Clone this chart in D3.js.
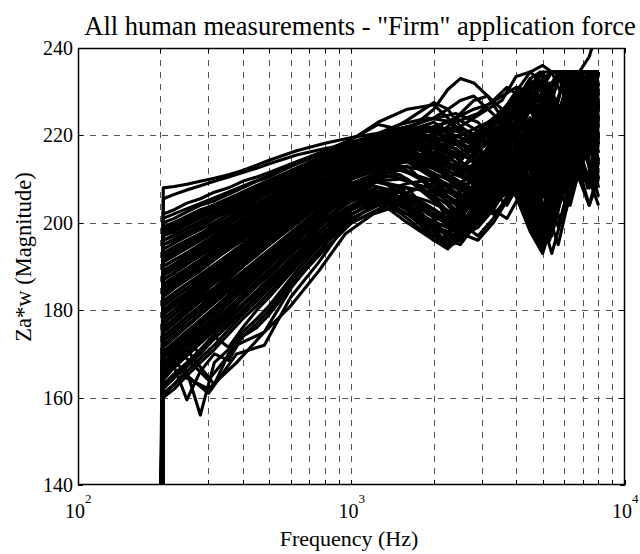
<!DOCTYPE html>
<html><head><meta charset="utf-8">
<script src="https://cdn.jsdelivr.net/npm/d3@7"></script>
<style>body{margin:0;background:#fff}svg{display:block}</style>
</head><body><svg id="c" width="640" height="554"></svg>
<script>
// ---- data ----
const titleText = 'All human measurements - "Firm" application force';
const xLabel = 'Frequency (Hz)';
const yLabel = 'Za*w (Magnitude)';
const yTicks = [140, 160, 180, 200, 220, 240];
const xMajor = [100, 1000, 10000];
const xExponents = ['2', '3', '4'];
const xMinor = [200, 300, 400, 500, 600, 700, 800, 900, 2000, 3000, 4000, 5000, 6000, 7000, 8000, 9000];

// measurement set A (frequency grid A)
const freqsA = [200, 205, 225, 250, 280, 315, 355, 400, 450, 500, 630, 800, 1000, 1250, 1600, 2000, 2250, 2500, 2800, 3150, 3550, 4000, 4500, 5000, 5400, 5800, 6300, 6800, 7400, 8000];
const curvesA = [
[40,208,208.3,208.8,209.5,210.2,211,212,213.2,214.3,216.5,218.2,219.5,220.5,222,221,219.5,220,221.5,223,225,227.5,230,228,231,234.5,234.5,234.5,234.5,234.5],
[90,205.5,206.5,207.5,208.5,209.5,210.5,211.5,212.5,213.5,215.5,217,218,219,221,226,230.5,233,232,229,226,224,229,232,234.5,234.5,234.5,234.5,234.5,234.5],
[60,202,203,204.5,205.5,207,208,209.5,210.5,211.5,214,216.5,219,223,226,227,224,221,219,220,223,226,229,227,232,234.5,234.5,234.5,234.5,234.5],
[110,200,201,202.5,204,205,206.5,208,209.5,210.5,213.5,216.5,219,222.5,221,219,220,222,224,226,228,233.5,234.5,236,234.5,234.5,234.5,230,234.5,234.5],
[20,199,200,201.5,203,204,205.5,207,208.5,209.5,212.5,215.5,218,219,220,222,223,224.5,226,227,229,231,230,233,234.5,234.5,234.5,234.5,238,245],
[75,197,198,199.5,201,202.5,204,205.5,207,208.5,211.5,214.5,217.5,219.5,223.5,227.5,226,222,220,221,224,228,232,231,234.5,234.5,234.5,229,234.5,234.5],
[130,196,197,198.5,200,201.5,203,205,206.5,208,211,214.5,218,220,222,221,219,218,219.5,222,225,230,234.5,232,228,234.5,230,234.5,226,232],
[50,195,196,197.5,199,201,202.5,204,205.5,207,210,213.5,216.5,218,219,217,215,216,218,221,224,222,226,220,225,230,234.5,228,224,230],
[100,193,194.5,196,197.5,199.5,201,203,204.5,206,209.5,213,217,219,220.5,218,216,215,217,220,218,214,210,206,212,219,226,232,234.5,234.5],
[0,192,193.5,195,196.5,198.5,200.5,202,204,205.5,209,212.5,216,218,217,214,212,214,218,222,226,224,220,214,220,226,222,228,234.5,234.5],
[85,190,191.5,193,195,197,199,200.5,202.5,204,207.5,211.5,215,217,219,216,213,212,215,219,223,220,213,208,216,224,230,234.5,234.5,228],
[65,189,190.5,192.5,194.5,196.5,198.5,200.5,202,204,208,212,216,218,221,223,221,218,216,218,222,227,231,234.5,229,222,226,234.5,234.5,234.5],
[120,188,189.5,191,193,195,197,199,201,202.5,206.5,210,214,216,218,215,211,209,212,216,219,215,207,200,206,214,220,218,226,232],
[30,186,187.5,189.5,191.5,194,196,198,200.5,202.5,206.5,211,215,217,219.5,222,223,221,218,215,218,223,227,225,218,212,220,227,224,220],
[95,185,186.5,188.5,190.5,192.5,194.5,197,199,201,205,209,213,215,217,214,210,207,210,214,217,212,205,197,204,212,208,216,224,220],
[55,183,185,187,189,191.5,194,196,198.5,200.5,205,209.5,214,216.5,219,220,218,216,214,217,221,225,222,216,222,230,234.5,226,220,226],
[115,182,184,186,188,190,192.5,194.5,197,199,203.5,208,212,214,216,211,206,204,208,213,216,210,203,196,202,210,218,214,222,216],
[10,180,182,184,186.5,189,191.5,194,196.5,198.5,203.5,208,213,215.5,218,219,217,214,212,215,219,223,219,212,218,226,232,234.5,230,234.5],
[80,179,181,183,185,187.5,190,192.5,195,197,201.5,206.5,211,213,215,210,204,201,205,210,214,209,202,198,207,216,212,220,228,224],
[45,177,179,181.5,184,186.5,189,191.5,194.5,196.5,202,207,212,214,216.5,217,214,211,210,213,217,220,214,206,213,222,228,224,216,222],
[105,176,178,180.5,183,185,188,190.5,193,195,200,205,210,212,213,207,200,197,201,207,212,207,200,195,202,211,206,214,210,218],
[70,175,177,179.5,182,184.5,187.5,190,193,195,200.5,206,211,213,215,214,211,209,211,215,219,216,208,201,210,219,215,224,219,210],
[125,173,175,177.5,180,183,185.5,188,191,193,198,202.5,207,209.5,208,201,196,195,199,205,210,206,198,193,200,210,204,212,208,215],
[35,172,174,176.5,179,182,184.5,187.5,190,192.5,198,203,208,210,206,199,195,197,202,208,213,218,222,215,208,216,224,218,226,232],
[90,170,172,174.5,177.5,180.5,183.5,186.5,189.5,192,198,203.5,209,211,210,205,202,199,203,209,215,221,228,224,218,212,222,230,234.5,226],
[60,169,171,173.5,176.5,179.5,182.5,185.5,188.5,191,197,202,206,208,205,198,194.5,196,200,205,210,215,210,200,193,200,210,218,214,206],
[15,168,170,172.5,175.5,178.5,181.5,184.5,187.5,190,196,201,205,207,204,197,196,199,204,208,212,206,199,194,202,212,220,216,208,214],
[100,166,168,171,174,177,180,183.5,186.5,189,195,200,204,206.5,203,196,194,197,201,205,209,213,205,197,206,215,210,220,226,218],
[50,165,167.5,170,173,176,179,182.5,185.5,188,194,199,203.5,206,202,199,198,198.5,203,207,211,216,220,212,204,210,218,212,204,210],
[80,163,165.5,168,171,174.5,177.5,181,184,186.5,192.5,198,203,206,201,196,197,201,206,210,214,208,200,196,206,216,224,230,222,214],
[25,162,164.5,167,170,173.5,176.5,180,183,186,192,197,202,205,204,200,199,202,207,212,217,214,206,198,204,212,220,228,232,224],
[110,161,163,166,169,172,175.5,179,182,185,191,196.5,201,204,202,197,195,198,203,209,214,220,224,216,208,200,208,216,210,204],
[65,160,162,165,168,171,174.5,178,181,184,190.5,196,200,203,206,203,200,203,208,214,220,226,220,210,202,209,217,225,234.5,228],
[40,165,168,166,156,168,171,175,178,181,189,196,202,205,200,196,195,199,204,209,212,207,199,195,203,211,217,210,204,212],
[120,164,167,159.5,166,170,168.5,174,177,180,188,195,201,204,206,203,201,204,209,215,220,225,229,222,214,220,226,232,226,218],
[90,166,169,171,167,163,170,174,176,179,187,194,200,203,207,209,206,203,204,208,212,216,212,204,198,206,214,222,218,212],
[5,168,170,173,170,174,171.5,176,180,183,190,197,203,206,208,207,205,204,207,211,216,220,226,220,213,218,224,220,228,234.5],
[70,170,172,175,173,177,178,181,184,187,193,199,204,207,209,210,208,205,206,210,214,212,206,200,207,214,222,230,234.5,234.5],
[100,198,199,200.5,202,203.5,205,206.5,208,209,212,215,218,220,222,224,226,228,229,226,223,226,230,234.5,234.5,230,234.5,234.5,234.5,234.5],
[45,187,188.5,190.5,192.5,195,197,199,201.5,203.5,208,212.5,216.5,218.5,220,217,213,211,213,217,222,226,218,210,217,226,234.5,230,222,228],
[130,181,183,185,187.5,190,192.5,195,197.5,199.5,204,207.5,211,213.5,216,218,216,212,209,211,215,219,226,230,222,214,220,228,234.5,234.5],
[30,174,176,178.5,181,184,187,190,192.5,195,200,205,210,212.5,214,211,208,206,208,212,217,222,215,204,197,205,214,224,230,222],
[85,184,186,188,190,192.5,195,197.5,199.5,201.5,205.5,209.5,213.5,216,218,220,222,225,228,229,224,218,212,220,228,234.5,234.5,228,220,226],
[55,178,180,182.5,185,187.5,190,192.5,195.5,197.5,202.5,207,211.5,213.5,215,213,210,212,216,219,222,217,210,203,210,218,226,222,230,234.5]
];

// measurement set B (frequency grid B)
const freqsB = [200, 205, 240, 300, 380, 480, 600, 760, 950, 1200, 1500, 1900, 2400, 2900, 3300, 3700, 4100, 4500, 4900, 5300, 5700, 6100, 6500, 6900, 7300, 7700, 8000];
const curvesB = [
[60,201,202.8,205.2,207.8,210.4,212.9,215.5,218,220,222.5,224,223,225,228,231,229,233,234.5,231,234.5,234.5,230,234.5,234.5,234.5,234.5],
[20,198.5,200.4,202.9,205.7,208.5,211,213.9,216.4,219,221,222,220,218,222,226,230,226,221,227,233,234.5,234.5,229,234.5,234.5,232],
[100,197.5,199.5,202.4,205.5,208.6,211.4,214.5,217.4,219.5,219,217,218,221,224,221,217,222,228,232,226,221,228,234.5,234.5,230,234.5],
[45,194,196.3,199.4,202.8,206.2,209.3,212.7,215.8,218,220,219,216,214,218,223,219,213,207,214,221,228,234.5,230,224,230,234.5],
[80,191,193.5,197,200.8,204.5,208,211.8,215.3,217.5,219,221,219,216,213,217,222,227,222,215,209,216,224,232,234.5,226,230],
[0,189,191.6,195.1,199,202.8,206.3,210.2,213.7,216,217,214,211,214,219,215,210,204,199,206,214,221,217,225,232,228,222],
[120,187,189.8,193.7,197.9,202.1,206,210.2,214.2,216.5,218,220,222,220,217,220,224,228,232,227,220,226,234.5,234.5,228,234.5,234.5],
[35,185,187.8,191.7,195.9,200.1,204,208.2,212.2,214.5,216,212,207,205,209,214,218,212,206,200,207,215,223,230,226,218,224],
[90,183.5,186.5,190.7,195.2,199.7,203.9,208.4,212.6,215,217,219,217,213,210,213,218,223,226,219,212,218,226,222,230,234.5,234.5],
[70,181,184.1,188.4,193.1,197.7,202.1,206.7,211.1,213.5,215,213,210,207,211,216,212,205,198,204,212,219,214,222,228,222,216],
[10,179,182.4,187,192.1,197.1,201.8,206.8,211.5,214,216.5,218,215,211,214,219,224,219,212,218,225,231,234.5,229,222,228,234.5],
[110,177,180.4,185,190.1,195.1,199.8,204.8,209.5,212,213,209,203,200,204,209,214,210,203,197,203,211,217,212,220,226,220],
[55,175,178.6,183.6,189,194.4,199.5,204.9,209.9,212.5,214,215,212,208,206,210,215,220,215,208,214,222,228,234.5,230,224,230],
[85,173,176.6,181.5,186.8,192.2,197.1,202.5,207.4,210,211,207,201,197,201,206,211,216,210,201,195,203,211,218,214,208,214],
[25,171.5,175.3,180.5,186.1,191.8,197,202.6,207.9,210.5,212,210,206,203,207,212,217,222,217,209,215,223,219,227,234.5,230,224],
[130,169.5,173.3,178.5,184.1,189.8,195,200.6,205.9,208.5,206,200,196,199,204,209,213,208,201,196,204,212,220,215,222,230,226],
[65,167,170.9,176.4,182.2,188.1,193.5,199.4,204.8,207.5,205,199,197,201,206,211,208,202,197,205,213,209,217,225,221,214,220],
[40,164.5,168.5,174.1,180.1,186.1,191.7,197.7,203.3,206,204,200,197,199,203,208,213,218,214,206,199,206,214,222,230,226,218],
[95,162.5,166.6,172.3,178.5,184.6,190.4,196.5,202.3,205.5,206,203,199,201,206,212,217,222,226,219,210,203,210,218,214,222,228],
[15,196,198.2,201.2,204.4,207.6,210.6,213.8,216.9,219,221,223.5,225,223,219,222,226,231,234.5,229,224,230,234.5,234.5,234.5,228,234.5],
[75,192.5,194.8,197.9,201.3,204.7,207.8,211.2,214.3,216.5,218,216,213,211,208,212,217,214,209,215,222,218,226,233,228,221,227],
[50,188,190.6,194.1,197.9,201.8,205.3,209.2,212.7,215,216,218,220,217,214,217,221,216,210,205,211,219,226,221,214,220,228],
[105,184,186.9,190.8,195.1,199.4,203.4,207.7,211.6,214,215,211,208,210,215,220,225,230,225,217,211,218,226,234.5,234.5,227,220],
[30,180,183.2,187.6,192.3,197,201.4,206.1,210.6,213,214.5,216,214,210,207,211,207,201,196,202,210,218,224,219,226,232,234.5],
[85,176,179.4,184,189.1,194.1,198.8,203.8,208.5,211,213,212,209,206,210,214,219,214,207,212,218,214,221,216,210,217,224],
[60,170.5,174.2,179.4,184.9,190.5,195.7,201.2,206.4,209.5,208,203,198,196,200,205,210,215,220,213,206,212,219,226,221,214,208],
[125,166,170,175.5,181.4,187.3,192.9,198.8,204.3,207,207.5,204,200,203,208,213,209,203,199,206,214,221,228,234.5,228,220,214],
[5,163,166,161,170,172,183,191,199.5,204,205,201,198,201,206,211,216,212,205,199,205,212,208,215,222,216,210],
[95,167,170,164,172,175,185,193,201,205,207,205,202,205,210,216,221,217,210,203,210,218,226,222,216,222,230],
[45,160.5,165,162,168,175,181,189,197.5,202,204,200,197,200,205,210,207,200,194,198,205,213,220,214,208,215,220],
[70,195,197.2,200.3,203.6,206.9,210,213.2,216.3,218,216,213,210,206,204,207,212,219,226,230,234.5,229,224,231,234.5,234.5,234.5],
[115,190,192.5,196.1,200,203.8,207.4,211.3,214.7,217,218.5,216,212,208,203,201,206,214,222,228,224,218,224,230,234.5,232,226],
[20,182,185.1,189.4,194.1,198.7,203.1,207.7,212,214.5,216,214,209,204,202,205,211,218,224,230,226,220,214,221,228,234.5,230],
[80,178,181.3,185.8,190.7,195.5,200.1,205,209.4,212,211,207,203,206,211,216,222,226,229,222,215,209,216,224,219,226,232],
[55,174,177.5,182.4,187.7,192.9,197.8,203,207.9,210.5,212.5,209,205,208,204,208,214,220,226,221,212,219,227,234.5,230,222,228],
[100,186,188.8,192.7,196.9,201.1,205,209.2,213.2,215.5,217.5,220,218,214,210,206,210,217,224,228,222,215,221,229,234.5,234.5,226],
[35,168,171.9,177.4,183.2,189.1,194.5,200.4,205.8,208.5,207,202,199,203,207,204,209,216,223,229,224,216,210,217,225,232,226],
[90,193,195.3,198.5,202,205.4,208.6,212.1,215.3,217.5,220,222,221,219,223,227,231,228,224,230,234.5,227,219,225,232,234.5,234.5],
[50,199,200.9,203.6,206.4,209.3,211.9,214.8,217.4,219.5,221,220,218,217,220,225,229,233,228,222,228,234.5,232,226,231,234.5,234.5],
[110,191.5,193.9,197.3,200.9,204.5,207.8,211.4,214.8,217.5,219.5,221.5,219,215,212,216,221,226,231,225,218,212,219,227,222,229,234.5],
[25,185.5,188.4,192.3,196.6,200.9,204.9,209.2,213.1,215.5,217,215,213,210,208,212,218,224,220,213,218,225,231,234.5,228,220,226],
[90,179.5,182.8,187.3,192.2,197.1,201.6,206.5,211,213.5,215.5,214,211,209,213,217,213,209,215,221,227,221,215,222,229,234.5,230],
[65,172,175.6,180.6,186,191.4,196.4,201.9,206.8,209.5,210,208,205,204,207,211,216,221,218,210,203,210,217,212,219,225,219],
[10,188.5,191.2,194.9,198.8,202.8,206.4,210.5,214.2,216.5,218.5,221,224,221,216,212,216,222,227,231,226,220,228,234.5,234.5,228,232]
];

// ---- layout ----
const L = 78, R = 625, T = 48, B = 485;
const svg = d3.select('#c');
const font = '"Liberation Serif", "Times New Roman", serif';
const x = d3.scaleLog().domain([100, 10000]).range([L, R]);
const y = d3.scaleLinear().domain([140, 240]).range([B, T]);

svg.append('rect').attr('width', 640).attr('height', 554).attr('fill', '#fff');
svg.append('defs').append('clipPath').attr('id', 'clip')
  .append('rect').attr('x', L).attr('y', T).attr('width', R - L).attr('height', B - T);

// grid
const grid = svg.append('g').attr('stroke', '#555').attr('stroke-width', 1)
  .attr('stroke-dasharray', '6,6').attr('fill', 'none');
grid.selectAll('.gx').data(xMinor.concat([1000])).join('line')
  .attr('x1', d => Math.round(x(d)) + 0.5).attr('x2', d => Math.round(x(d)) + 0.5)
  .attr('y1', T).attr('y2', B);
grid.selectAll('.gy').data(yTicks.slice(1, -1)).join('line')
  .attr('y1', d => Math.round(y(d)) + 0.5).attr('y2', d => Math.round(y(d)) + 0.5)
  .attr('x1', L).attr('x2', R);

// curves
const plot = svg.append('g').attr('clip-path', 'url(#clip)');
function drawSet(freqs, curves) {
  const line = d3.line().x((d, i) => x(freqs[i])).y(d => y(d));
  plot.append('g').selectAll('path').data(curves).join('path')
    .attr('d', line).attr('fill', 'none').attr('stroke', '#000')
    .attr('stroke-width', 3.1).attr('stroke-linejoin', 'round');
}
drawSet(freqsA, curvesA);
drawSet(freqsB, curvesB);

// axes box
svg.append('rect').attr('x', L + 0.5).attr('y', T + 0.5).attr('width', R - L - 1).attr('height', B - T - 1)
  .attr('fill', 'none').attr('stroke', '#000').attr('stroke-width', 1.5);

// ticks (inside)
const tk = svg.append('g').attr('stroke', '#000').attr('stroke-width', 1);
xMinor.concat(xMajor).forEach(d => {
  const xx = Math.round(x(d)) + 0.5;
  tk.append('line').attr('x1', xx).attr('x2', xx).attr('y1', B).attr('y2', B - 5);
  tk.append('line').attr('x1', xx).attr('x2', xx).attr('y1', T).attr('y2', T + 5);
});
yTicks.forEach(d => {
  const yy = Math.round(y(d)) + 0.5;
  tk.append('line').attr('x1', L).attr('x2', L + 5).attr('y1', yy).attr('y2', yy);
  tk.append('line').attr('x1', R).attr('x2', R - 5).attr('y1', yy).attr('y2', yy);
});

// y tick labels
svg.append('g').selectAll('text').data(yTicks).join('text')
  .attr('x', L - 5).attr('y', d => y(d)).attr('dy', '0.35em')
  .attr('text-anchor', 'end').attr('font-family', font).attr('font-size', 20)
  .text(d => d);

// x tick labels
const xl = svg.append('g').attr('font-family', font);
xMajor.forEach((d, i) => {
  xl.append('text').attr('x', x(d) - 3).attr('y', 518).attr('text-anchor', 'middle')
    .attr('font-size', 20).text('10');
  xl.append('text').attr('x', x(d) + 7).attr('y', 503).attr('text-anchor', 'start')
    .attr('font-size', 13).text(xExponents[i]);
});

// titles
svg.append('text').attr('x', 360).attr('y', 35).attr('text-anchor', 'middle')
  .attr('font-family', font).attr('font-size', 26.5).text(titleText);
svg.append('text').attr('x', 349).attr('y', 546).attr('text-anchor', 'middle')
  .attr('font-family', font).attr('font-size', 22).text(xLabel);
svg.append('text').attr('transform', 'translate(31,257) rotate(-90)').attr('text-anchor', 'middle')
  .attr('font-family', font).attr('font-size', 22.5).text(yLabel);
</script></body></html>
